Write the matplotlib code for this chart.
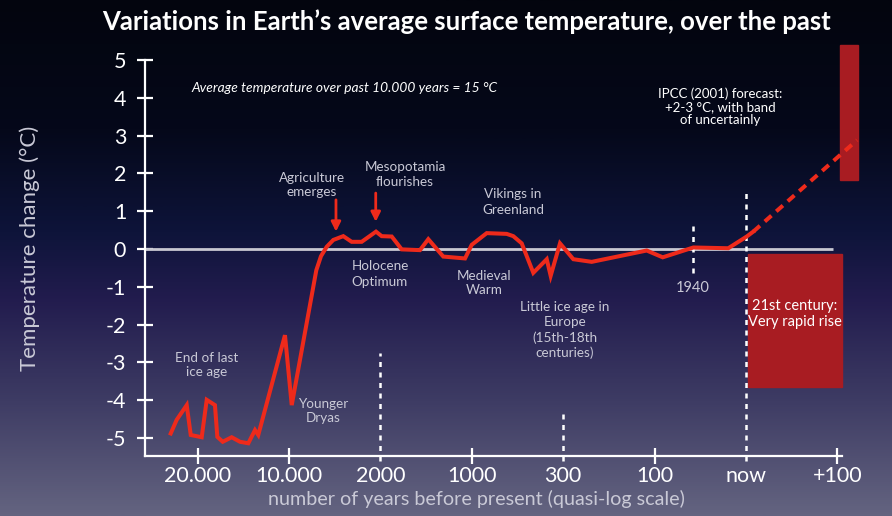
import numpy as np
import matplotlib
matplotlib.use("Agg")
import matplotlib.pyplot as plt
from matplotlib.colors import LinearSegmentedColormap
import matplotlib.patches as mpatches

plt.rcParams['font.family'] = ['Lato', 'DejaVu Sans']

# ---------------- data ----------------
tick_labels = ["20.000", "10.000", "2000", "1000", "300", "100", "now", "+100"]
y_ticks = [5, 4, 3, 2, 1, 0, -1, -2, -3, -4, -5]
y_tick_labels = ["5", "4", "3", "2", "1", "0", "-1", "-2", "-3", "-4", "-5"]

# x in units of tick index on the quasi-log axis, y = temperature change (°C)
temp_x = [-0.293, -0.228, -0.118, -0.074, 0.046, 0.101, 0.191, 0.217, 0.276, 0.374,
          0.465, 0.556, 0.629, 0.665, 0.957, 1.031, 1.300, 1.351, 1.414, 1.486,
          1.595, 1.687, 1.796, 1.953, 2.015, 2.125, 2.234, 2.434, 2.525, 2.689,
          2.927, 3.000, 3.164, 3.383, 3.455, 3.547, 3.674, 3.821, 3.864, 3.966,
          4.112, 4.313, 4.915, 5.090, 5.425, 5.807, 6.009, 6.081]
temp_y = [-4.88, -4.52, -4.13, -4.92, -4.98, -3.99, -4.13, -4.97, -5.10, -4.98,
          -5.10, -5.14, -4.79, -4.92, -2.28, -4.13, -0.56, -0.19, 0.06, 0.24,
          0.34, 0.19, 0.19, 0.46, 0.34, 0.33, -0.01, -0.03, 0.26, -0.20,
          -0.25, 0.11, 0.42, 0.40, 0.34, 0.15, -0.63, -0.27, -0.71, 0.15,
          -0.27, -0.34, -0.04, -0.22, 0.04, 0.02, 0.33, 0.46]

forecast_x = [6.081, 7.216]
forecast_y = [0.46, 2.88]

# IPCC uncertainty band (top right) and 21st century box
band_x, band_w, band_lo, band_hi = 7.03, 0.20, 1.83, 5.40
box_x, box_w, box_lo, box_hi = 6.025, 1.025, -3.66, -0.13

RED = '#ee2a1b'
BOX = '#a81c22'
GREY = '#c9c9d6'

W, H = 892, 516
fig = plt.figure(figsize=(W / 100, H / 100), dpi=100)

# ---------- background gradient ----------
bg = fig.add_axes([0, 0, 1, 1], zorder=-10)
stops = [(0.0, (3, 5, 14)), (0.25, (5, 8, 26)), (0.45, (14, 20, 58)),
         (0.58, (34, 28, 78)), (0.78, (62, 60, 100)), (1.0, (100, 100, 128))]
cmap = LinearSegmentedColormap.from_list(
    'bg', [(p, tuple(c / 255 for c in col)) for p, col in stops])
grad = np.linspace(0, 1, 512).reshape(-1, 1)
bg.imshow(grad, aspect='auto', cmap=cmap, extent=[0, 1, 0, 1], origin='upper')
bg.set_axis_off()


def px(x, y):
    return x / W, 1 - y / H


# ---------- main axes ----------
left_px, right_px, top_px, bot_px = 145, 842, 60, 456
ax = fig.add_axes([left_px / W, (H - bot_px) / H, (right_px - left_px) / W, (bot_px - top_px) / H])
ax.patch.set_alpha(0)
x0, dx = 197.5, 91.4
ax.set_xlim((left_px - x0) / dx, (right_px - x0) / dx)
ax.set_ylim(-5.476, 5.0)
for s in ['top', 'right']:
    ax.spines[s].set_visible(False)
for s in ['left', 'bottom']:
    ax.spines[s].set_color('white')
    ax.spines[s].set_linewidth(1.6)

ax.set_yticks(y_ticks, y_tick_labels)
ax.set_xticks(range(len(tick_labels)), tick_labels)
ax.tick_params(axis='both', colors='white', direction='inout', length=11, width=1.6,
               labelsize=15.5)
ax.tick_params(axis='y', pad=8)
ax.tick_params(axis='x', pad=1.5)
for idx, t in enumerate(ax.xaxis.get_major_ticks()):
    if idx in (2, 4, 6):
        t.tick1line.set_visible(False)

fig.text(*px(30, 248), 'Temperature change (°C)', color=GREY, fontsize=16,
         rotation=90, ha='center', va='center')
fig.text(*px(476, 499), 'number of years before present (quasi-log scale)', color=GREY,
         fontsize=14.2, ha='center', va='center')

# zero line
ax.hlines(0, ax.get_xlim()[0], 6.95, color='#c8c8d2', lw=2, zorder=2)

# dotted reference lines
dot = dict(color='white', lw=1.8, linestyle=(0, (2, 2.2)), clip_on=False, zorder=3)
ax.vlines(2, -5.6, -2.75, **dot)
ax.vlines(4, -5.6, -4.26, **dot)
ax.vlines(6, -5.6, 1.56, **dot)
ax.vlines(5.42, -0.64, 0.63, **dot)

# boxes
ax.add_patch(mpatches.Rectangle((box_x, box_lo), box_w, box_hi - box_lo,
                                color=BOX, zorder=1, clip_on=False))
ax.add_patch(mpatches.Rectangle((band_x, band_lo), band_w, band_hi - band_lo,
                                color=BOX, zorder=1, clip_on=False))

# temperature curve
ax.plot(temp_x, temp_y, color=RED, lw=2.9, solid_joinstyle='miter', zorder=5, clip_on=False)
ax.plot(forecast_x, forecast_y, color=RED, lw=2.9, linestyle=(0, (2.2, 1.6)), zorder=5,
        clip_on=False)

# arrows
for xa, ytail, ytip in [(1.515, 1.30, 0.46), (1.95, 1.48, 0.72)]:
    ax.annotate('', xy=(xa, ytip), xytext=(xa, ytail),
                arrowprops=dict(arrowstyle='-|>', color=RED, lw=2, mutation_scale=14,
                                shrinkA=0, shrinkB=0))

# ---------- texts ----------
fig.text(*px(467, 22), 'Variations in Earth’s average surface temperature, over the past',
         color='white', fontsize=18.5, fontweight='bold', ha='center', va='center')
fig.text(*px(345, 88), 'Average temperature over past 10.000 years = 15 °C',
         color='white', fontsize=9.9, style='italic', ha='center', va='center')

notes = [
    (207, 365, 'End of last\nice age'),
    (323, 411, 'Younger\nDryas'),
    (312, 185, 'Agriculture\nemerges'),
    (405, 175, 'Mesopotamia\nflourishes'),
    (513, 202, 'Vikings in\nGreenland'),
    (380, 274, 'Holocene\nOptimum'),
    (484, 283, 'Medieval\nWarm'),
    (565, 330, 'Little ice age in\nEurope\n(15th-18th\ncenturies)'),
]
for x, y, s in notes:
    fig.text(*px(x, y), s, color=GREY, fontsize=9.7, ha='center', va='center',
             linespacing=1.3)
fig.text(*px(693, 288), '1940', color=GREY, fontsize=10.5, ha='center', va='center')
fig.text(*px(720, 107), 'IPCC (2001) forecast:\n+2-3 °C, with band\nof uncertainly',
         color='white', fontsize=9.5, ha='center', va='center', linespacing=1.12)
fig.text(*px(795, 314), '21st century:\nVery rapid rise', color='white', fontsize=10.5,
         ha='center', va='center', linespacing=1.1)

fig.savefig('out.png', dpi=100)
